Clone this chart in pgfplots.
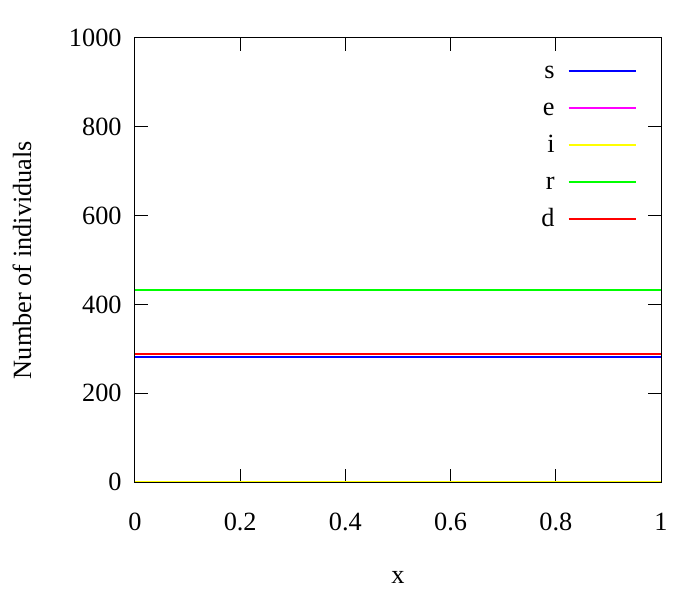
\documentclass[border=0pt]{standalone}
\usepackage{fontspec}
\setmainfont{Liberation Serif}
\usepackage{pgfplots}
\pgfplotsset{compat=1.18}
\definecolor{gpblue}{RGB}{0,0,255}
\definecolor{gpmagenta}{RGB}{255,0,255}
\definecolor{gpyellow}{RGB}{255,255,0}
\definecolor{gpgreen}{RGB}{0,255,0}
\definecolor{gpred}{RGB}{255,0,0}
\begin{document}
\fontsize{13.2}{15.8}\selectfont
\begin{tikzpicture}
\useasboundingbox (-67.5bp,-59bp) rectangle (282.5bp,241bp);
\begin{axis}[
  at={(0,0)}, anchor=south west,
  scale only axis,
  width=263bp, height=222bp,
  xmin=0, xmax=1, ymin=0, ymax=1000,
  xtick={0,0.2,...,1}, ytick={0,200,...,1000},
  xticklabels={0,0.2,0.4,0.6,0.8,1},
  tick align=inside, major tick length=6.5bp,
  tick style={black, line width=0.5bp},
  axis line style={line width=0.5bp},
  /pgf/number format/assume math mode=true,
  /pgf/number format/1000 sep={},
  xticklabel style={anchor=center, yshift=-20bp},
  yticklabel style={anchor=east, inner sep=0pt, xshift=-6.5bp},
  xlabel={x}, ylabel={Number of individuals},
  xlabel style={at={(axis description cs:0.5,-0.216)}, anchor=center},
  ylabel style={at={(axis description cs:-0.2148,0.5)}, anchor=center},
  legend style={at={(axis description cs:1,1)}, anchor=north east,
    xshift=-9bp, yshift=-7.5bp, draw=none, fill=none,
    legend cell align=right, row sep=4.5bp,
    nodes={inner sep=1bp, text height=9.5bp, text depth=2.5bp},
    /tikz/every odd column/.append style={column sep=5.5bp}},
  legend plot pos=right,
  legend image code/.code={\draw[#1] (0bp,0bp) -- (33.5bp,0bp);},
  every axis plot/.append style={line width=1bp},
]
\addplot[gpblue] coordinates {(0,281) (1,281)};
\addlegendentry{s}
\addplot[gpmagenta] coordinates {(0,0) (1,0)};
\addlegendentry{e}
\addplot[gpyellow] coordinates {(0,0) (1,0)};
\addlegendentry{i}
\addplot[gpgreen] coordinates {(0,432) (1,432)};
\addlegendentry{r}
\addplot[gpred] coordinates {(0,288) (1,288)};
\addlegendentry{d}
\end{axis}
\end{tikzpicture}
\end{document}
